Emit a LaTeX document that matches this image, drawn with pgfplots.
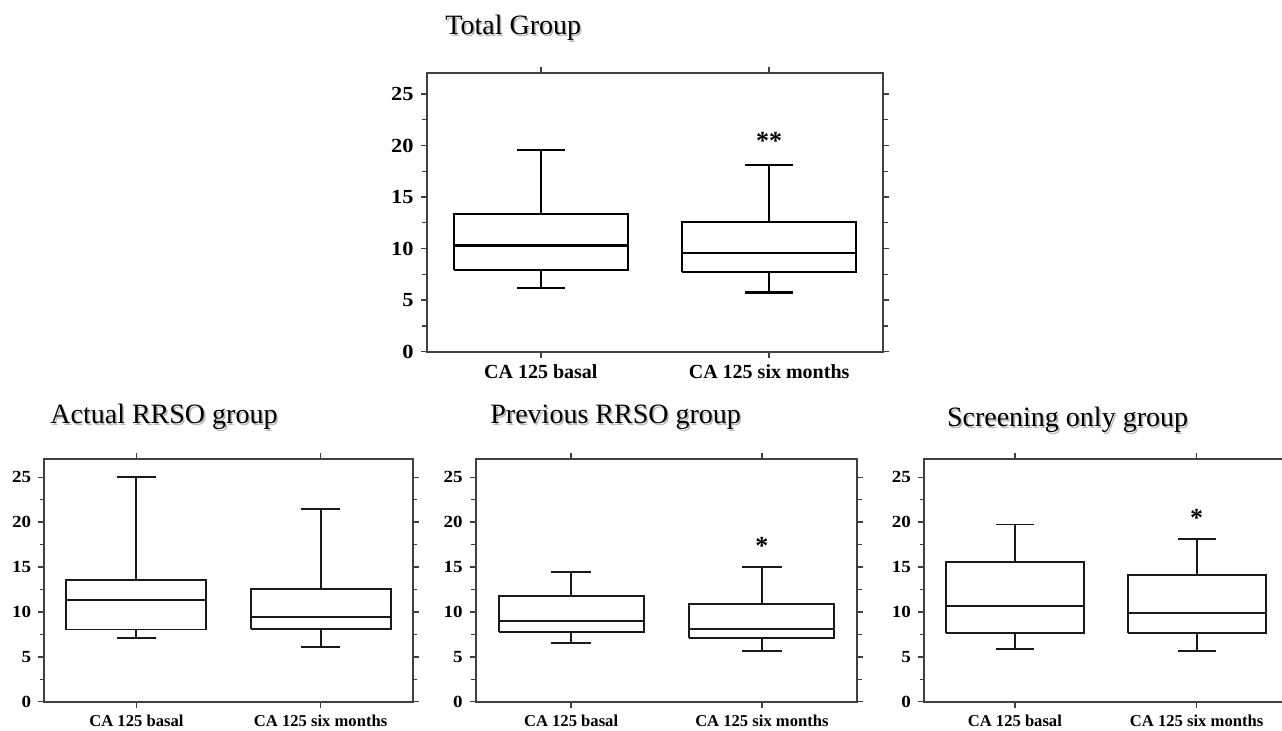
\documentclass[border=0pt]{standalone}
\usepackage{fontspec}
\setmainfont{Liberation Serif}
\newfontfamily\tickfont{Liberation Serif}[FakeStretch=1.12]
\usepackage{pgfplots}
\pgfplotsset{compat=1.18}

\pgfplotsset{
  mybox/.style={
    scale only axis, xmin=0.5, xmax=2.5, ymin=0, ymax=27,
    xtick={1,2}, xticklabels={CA 125 basal, CA 125 six months},
    ytick={0,5,...,25}, minor y tick num=1,
    tick align=outside, major tick length=3pt, minor tick length=2.2pt,
    axis line style={draw=black!75, line width=1pt},
    every tick/.style={black!75, line width=0.7pt},
    every minor tick/.style={black!75, line width=0.6pt},
    /pgf/number format/assume math mode=true,
    clip=false,
  },
}

% one box: #1 position, #2 lower whisker, #3 lower quartile, #4 median, #5 upper quartile, #6 upper whisker
\newcommand{\bx}[6]{%
  \pgfmathsetmacro\xa{#1-0.38}\pgfmathsetmacro\xb{#1+0.38}%
  \pgfmathsetmacro\ca{#1-0.105}\pgfmathsetmacro\cb{#1+0.105}%
  \edef\tmp{%
    \noexpand\addplot[boxln] coordinates {(\xa,#3) (\xb,#3) (\xb,#5) (\xa,#5) (\xa,#3)};
    \noexpand\addplot[boxln] coordinates {(\xa,#4) (\xb,#4)};
    \noexpand\addplot[boxln] coordinates {(#1,#5) (#1,#6)};
    \noexpand\addplot[boxln] coordinates {(\ca,#6) (\cb,#6)};
    \noexpand\addplot[boxln] coordinates {(#1,#3) (#1,#2)};
    \noexpand\addplot[boxln] coordinates {(\ca,#2) (\cb,#2)};
  }\tmp
}

\newcommand{\ttl}[3]{%
  \node[anchor=base west, inner sep=0pt, text=black!28] at ([shift={(0.8pt,-0.8pt)}]#1,#2) {\fontsize{14}{16}\selectfont #3};
  \node[anchor=base west, inner sep=0pt] at (#1,#2) {\fontsize{14}{16}\selectfont #3};
}

\begin{document}
\begin{tikzpicture}
\path[use as bounding box] (0,0) rectangle (641pt,365pt);

\ttl{222.5pt}{347.5pt}{Total Group}
\ttl{25pt}{153.3pt}{Actual RRSO group}
\ttl{245pt}{153.3pt}{Previous RRSO group}
\ttl{473.3pt}{151.6pt}{Screening only group}

% Total group
\begin{axis}[mybox, at={(213.35pt,189.15pt)}, anchor=south west,
  width=228.3pt, height=139.2pt,
  boxln/.style={black, line width=1.1pt, mark=none, line join=miter},
  xticklabel style={font=\bfseries\fontsize{10}{12}\selectfont},
  yticklabel style={font=\tickfont\bfseries\fontsize{10}{12}\selectfont}]
\bx{1}{6.16}{7.94}{10.3}{13.35}{19.58}
\bx{2}{5.74}{7.74}{9.55}{12.6}{18.1}
\node[font=\bfseries\fontsize{13}{14}\selectfont] at (axis cs:2,20.4) {**};
\end{axis}

% Actual RRSO
\begin{axis}[mybox, at={(22.15pt,14.15pt)}, anchor=south west,
  width=184.2pt, height=121.2pt,
  boxln/.style={black!90, line width=0.95pt, mark=none, line join=miter},
  xticklabel style={font=\bfseries\fontsize{8.3}{10}\selectfont},
  yticklabel style={font=\tickfont\bfseries\fontsize{8.5}{10}\selectfont}]
\bx{1}{7.07}{8.04}{11.33}{13.52}{25.0}
\bx{2}{6.11}{8.11}{9.41}{12.56}{21.48}
\end{axis}

% Previous RRSO
\begin{axis}[mybox, at={(237.85pt,14.15pt)}, anchor=south west,
  width=190.8pt, height=121.2pt,
  boxln/.style={black!90, line width=0.95pt, mark=none, line join=miter},
  xticklabel style={font=\bfseries\fontsize{8.3}{10}\selectfont},
  yticklabel style={font=\tickfont\bfseries\fontsize{8.5}{10}\selectfont}]
\bx{1}{6.5}{7.74}{9.01}{11.82}{14.42}
\bx{2}{5.66}{7.08}{8.14}{10.88}{14.96}
\node[font=\bfseries\fontsize{13}{14}\selectfont] at (axis cs:2,17.3) {*};
\end{axis}

% Screening only
\begin{axis}[mybox, at={(462pt,14.15pt)}, anchor=south west,
  width=181.75pt, height=121.2pt,
  boxln/.style={black!90, line width=0.95pt, mark=none, line join=miter},
  xticklabel style={font=\bfseries\fontsize{8.3}{10}\selectfont},
  yticklabel style={font=\tickfont\bfseries\fontsize{8.5}{10}\selectfont}]
\bx{1}{5.91}{7.66}{10.66}{15.55}{19.74}
\bx{2}{5.66}{7.66}{9.93}{14.16}{18.1}
\node[font=\bfseries\fontsize{13}{14}\selectfont] at (axis cs:2,20.5) {*};
\end{axis}
\end{tikzpicture}
\end{document}
